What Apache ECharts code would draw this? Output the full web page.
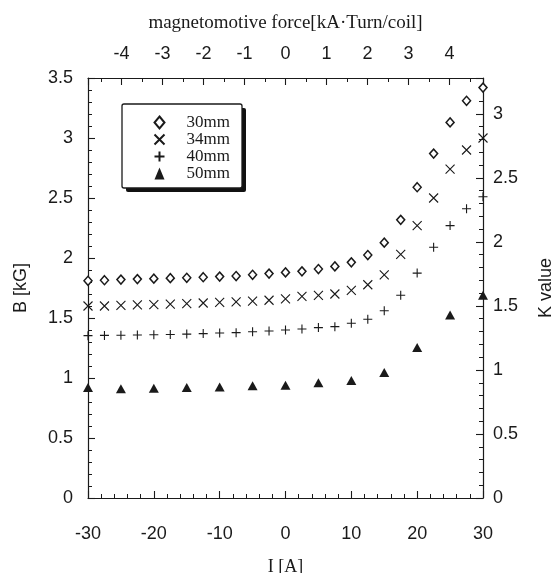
<!DOCTYPE html>
<html>
<head>
<meta charset="utf-8">
<script src="https://cdn.jsdelivr.net/npm/echarts@6/dist/echarts.min.js"></script>
<style>
  html, body { margin: 0; padding: 0; background: #fff; }
  #chart { width: 559px; height: 573px; }
</style>
</head>
<body>
<div id="chart"></div>
<script>
// current I [A]
const currentFine = [-30, -27.5, -25, -22.5, -20, -17.5, -15, -12.5, -10, -7.5, -5, -2.5, 0,
  2.5, 5, 7.5, 10, 12.5, 15, 17.5, 20, 22.5, 25, 27.5, 30];
const currentCoarse = [-30, -25, -20, -15, -10, -5, 0, 5, 10, 15, 20, 25, 30];

// B [kG] per gap
const b30 = [1.81, 1.815, 1.82, 1.824, 1.828, 1.832, 1.835, 1.84, 1.845, 1.85, 1.86, 1.87, 1.88,
  1.889, 1.908, 1.93, 1.964, 2.025, 2.128, 2.318, 2.59, 2.87, 3.13, 3.31, 3.42];
const b34 = [1.60, 1.60, 1.605, 1.61, 1.612, 1.615, 1.62, 1.625, 1.63, 1.635, 1.64, 1.648, 1.66,
  1.68, 1.688, 1.70, 1.73, 1.777, 1.86, 2.03, 2.27, 2.50, 2.74, 2.90, 3.00];
const b40 = [1.353, 1.355, 1.356, 1.358, 1.36, 1.363, 1.366, 1.37, 1.375, 1.378, 1.385, 1.392, 1.40,
  1.408, 1.42, 1.428, 1.456, 1.49, 1.56, 1.69, 1.874, 2.09, 2.27, 2.41, 2.51];
const b50 = [0.92, 0.91, 0.915, 0.92, 0.925, 0.935, 0.94, 0.96, 0.98, 1.046, 1.255, 1.525, 1.69];

const gapNames = ['30mm', '34mm', '40mm', '50mm'];

const ink = '#1a1a1a';
const sans = '"Liberation Sans", Arial, sans-serif';
const serif = '"Liberation Serif", "Times New Roman", serif';

const pair = (xs, ys) => xs.map((x, i) => [x, ys[i]]);

const axisCommon = {
  axisLine: { onZero: false, lineStyle: { color: ink, width: 1.2 } },
  axisTick: { inside: true, length: 7, lineStyle: { color: ink, width: 1.1 } },
  minorTick: { show: true, length: 4, lineStyle: { color: ink, width: 1 } },
  splitLine: { show: false },
  axisLabel: { color: ink, fontFamily: sans, fontSize: 18 }
};

const chart = echarts.init(document.getElementById('chart'), null, { renderer: 'canvas' });

chart.setOption({
  animation: false,
  backgroundColor: '#fff',
  grid: { left: 88, right: 76, top: 78, bottom: 75, outerBoundsMode: 'none', containLabel: false },
  // legend frame with its hard drop shadow
  graphic: [
    { type: 'rect', z: 3, silent: true, shape: { x: 126, y: 108, width: 120, height: 84, r: 2 }, style: { fill: '#111' } },
    { type: 'rect', z: 3, silent: true, shape: { x: 122, y: 104, width: 120, height: 84, r: 2 }, style: { fill: '#fff', stroke: ink, lineWidth: 1.3 } }
  ],
  legend: {
    orient: 'vertical',
    left: 122,
    top: 104,
    padding: [10, 12, 10, 30],
    itemWidth: 10,
    itemHeight: 12,
    itemGap: 0,
    textStyle: { color: ink, fontFamily: serif, fontSize: 17, lineHeight: 16, padding: [0, 0, 0, 17] },
    data: gapNames
  },
  xAxis: [
    Object.assign({}, axisCommon, {
      type: 'value',
      position: 'bottom',
      min: -30,
      max: 30,
      interval: 10,
      minorTick: Object.assign({}, axisCommon.minorTick, { splitNumber: 5 }),
      axisLabel: Object.assign({}, axisCommon.axisLabel, { margin: 27 }),
      name: 'I [A]',
      nameLocation: 'middle',
      nameGap: 60,
      nameTextStyle: { color: ink, fontFamily: serif, fontSize: 18 }
    }),
    Object.assign({}, axisCommon, {
      type: 'value',
      position: 'top',
      min: -4.82,
      max: 4.82,
      splitNumber: 10,
      minorTick: Object.assign({}, axisCommon.minorTick, { splitNumber: 2 }),
      axisLabel: Object.assign({}, axisCommon.axisLabel, { margin: 15, showMinLabel: false, showMaxLabel: false }),
      name: 'magnetomotive force[kA·Turn/coil]',
      nameLocation: 'middle',
      nameGap: 45,
      nameTextStyle: { color: ink, fontFamily: serif, fontSize: 19 }
    })
  ],
  yAxis: [
    Object.assign({}, axisCommon, {
      type: 'value',
      position: 'left',
      min: 0,
      max: 3.5,
      interval: 0.5,
      minorTick: Object.assign({}, axisCommon.minorTick, { splitNumber: 5 }),
      axisLabel: Object.assign({}, axisCommon.axisLabel, { margin: 15 }),
      name: 'B [kG]',
      nameLocation: 'middle',
      nameGap: 58,
      nameTextStyle: { color: ink, fontFamily: sans, fontSize: 18 }
    }),
    Object.assign({}, axisCommon, {
      type: 'value',
      position: 'right',
      min: 0,
      max: 3.28,
      interval: 0.5,
      minorTick: Object.assign({}, axisCommon.minorTick, { splitNumber: 5 }),
      axisLabel: Object.assign({}, axisCommon.axisLabel, { margin: 10, showMaxLabel: false }),
      name: 'K value',
      nameLocation: 'middle',
      nameGap: 54,
      nameTextStyle: { color: ink, fontFamily: sans, fontSize: 18 }
    })
  ],
  series: [
    {
      name: '30mm',
      type: 'scatter',
      symbol: 'diamond',
      symbolSize: [8, 9],
      itemStyle: { color: '#fff', borderColor: ink, borderWidth: 1.5, opacity: 1 },
      data: pair(currentFine, b30)
    },
    {
      name: '34mm',
      type: 'scatter',
      symbol: 'path://M0,0L10,10M10,0L0,10',
      symbolSize: 9,
      itemStyle: { color: 'none', borderColor: ink, borderWidth: 1.1, opacity: 1 },
      data: pair(currentFine, b34)
    },
    {
      name: '40mm',
      type: 'scatter',
      symbol: 'path://M5,0L5,10M0,5L10,5',
      symbolSize: 9,
      itemStyle: { color: 'none', borderColor: ink, borderWidth: 1.1, opacity: 1 },
      data: pair(currentFine, b40)
    },
    {
      name: '50mm',
      type: 'scatter',
      symbol: 'triangle',
      symbolSize: [10, 9],
      itemStyle: { color: ink, opacity: 1 },
      data: pair(currentCoarse, b50)
    }
  ]
});
</script>
</body>
</html>
